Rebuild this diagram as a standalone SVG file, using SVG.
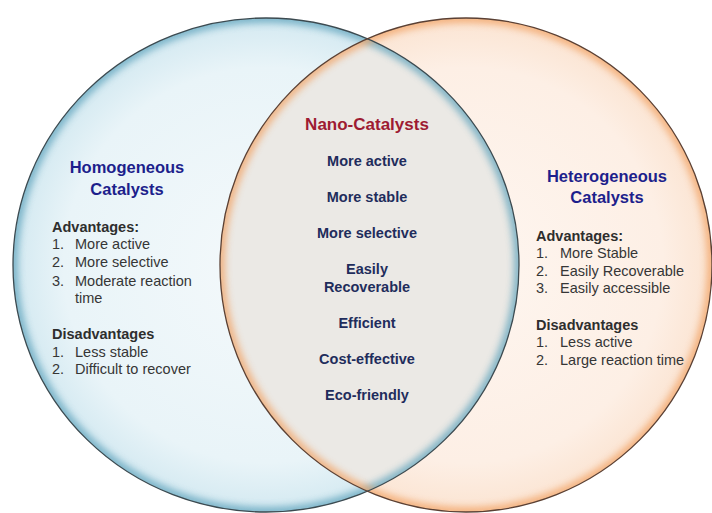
<svg xmlns="http://www.w3.org/2000/svg" width="712" height="513" viewBox="0 0 712 513">
  <defs>
    <radialGradient id="gLeft" cx="0.5" cy="0.5" r="0.5">
      <stop offset="0" stop-color="#f4f9fb"/>
      <stop offset="0.8" stop-color="#e9f4f8"/>
      <stop offset="1" stop-color="#d3e9f1"/>
    </radialGradient>
    <radialGradient id="gRight" cx="0.5" cy="0.5" r="0.5">
      <stop offset="0" stop-color="#fef6f0"/>
      <stop offset="0.8" stop-color="#fdefe5"/>
      <stop offset="1" stop-color="#fbe4d2"/>
    </radialGradient>
    <clipPath id="cLeft"><ellipse cx="266" cy="265" rx="253" ry="247"/></clipPath>
    <clipPath id="cRight"><ellipse cx="466" cy="265" rx="246" ry="247"/></clipPath>
    <filter id="blur" x="-10%" y="-10%" width="120%" height="120%">
      <feGaussianBlur stdDeviation="3.5"/>
    </filter>
    <style>
      .hdr{font-family:"Liberation Sans",Arial,sans-serif;font-weight:bold;font-size:16.5px;fill:#1d1f8c;text-anchor:middle}
      .nano{font-family:"Liberation Sans",Arial,sans-serif;font-weight:bold;font-size:17px;fill:#9e1b32;text-anchor:middle}
      .ctr{font-family:"Liberation Sans",Arial,sans-serif;font-weight:bold;font-size:14.5px;fill:#1f2d5c;text-anchor:middle}
      .sub{font-family:"Liberation Sans",Arial,sans-serif;font-weight:bold;font-size:14.5px;fill:#2e2e2e}
      .item{font-family:"Liberation Sans",Arial,sans-serif;font-size:14.5px;fill:#363636}
    </style>
  </defs>

  <rect width="712" height="513" fill="#ffffff"/>

  <g id="homogeneous-circle">
    <ellipse cx="266" cy="265" rx="253" ry="247" fill="url(#gLeft)"/>
  </g>
  <g id="heterogeneous-circle">
    <ellipse cx="466" cy="265" rx="246" ry="247" fill="url(#gRight)"/>
  </g>
  <g id="overlap" clip-path="url(#cLeft)">
    <ellipse cx="466" cy="265" rx="246" ry="247" fill="#ebe9e5"/>
  </g>
  <g id="glows">
    <g clip-path="url(#cLeft)">
      <ellipse cx="266" cy="265" rx="253" ry="247" fill="none" stroke="#5da2bb" stroke-width="10" filter="url(#blur)" opacity="0.75"/>
    </g>
    <g clip-path="url(#cRight)">
      <ellipse cx="466" cy="265" rx="246" ry="247" fill="none" stroke="#f2a264" stroke-width="10" filter="url(#blur)" opacity="0.75"/>
    </g>
  </g>
  <g id="outlines" fill="none" stroke-width="1.3">
    <ellipse cx="266" cy="265" rx="253" ry="247" stroke="#3c4a50"/>
    <ellipse cx="466" cy="265" rx="246" ry="247" stroke="#5a4034"/>
  </g>

  <g id="homogeneous-text">
    <text class="hdr" x="127" y="173">Homogeneous</text>
    <text class="hdr" x="127" y="195">Catalysts</text>
    <text class="sub" x="52" y="232">Advantages:</text>
    <text class="item" x="52" y="249">1.</text><text class="item" x="75" y="249">More active</text>
    <text class="item" x="52" y="267">2.</text><text class="item" x="75" y="267">More selective</text>
    <text class="item" x="52" y="286">3.</text><text class="item" x="75" y="286">Moderate reaction</text>
    <text class="item" x="75" y="303">time</text>
    <text class="sub" x="52" y="339">Disadvantages</text>
    <text class="item" x="52" y="357">1.</text><text class="item" x="75" y="357">Less stable</text>
    <text class="item" x="52" y="374">2.</text><text class="item" x="75" y="374">Difficult to recover</text>
  </g>

  <g id="heterogeneous-text">
    <text class="hdr" x="607" y="182">Heterogeneous</text>
    <text class="hdr" x="607" y="203">Catalysts</text>
    <text class="sub" x="536" y="241">Advantages:</text>
    <text class="item" x="536" y="258">1.</text><text class="item" x="560" y="258">More Stable</text>
    <text class="item" x="536" y="276">2.</text><text class="item" x="560" y="276">Easily Recoverable</text>
    <text class="item" x="536" y="293">3.</text><text class="item" x="560" y="293">Easily accessible</text>
    <text class="sub" x="536" y="330">Disadvantages</text>
    <text class="item" x="536" y="347">1.</text><text class="item" x="560" y="347">Less active</text>
    <text class="item" x="536" y="365">2.</text><text class="item" x="560" y="365">Large reaction time</text>
  </g>

  <g id="nano-text">
    <text class="nano" x="367" y="130">Nano-Catalysts</text>
    <text class="ctr" x="367" y="166">More active</text>
    <text class="ctr" x="367" y="202">More stable</text>
    <text class="ctr" x="367" y="238">More selective</text>
    <text class="ctr" x="367" y="274">Easily</text>
    <text class="ctr" x="367" y="292">Recoverable</text>
    <text class="ctr" x="367" y="328">Efficient</text>
    <text class="ctr" x="367" y="364">Cost-effective</text>
    <text class="ctr" x="367" y="400">Eco-friendly</text>
  </g>
</svg>
